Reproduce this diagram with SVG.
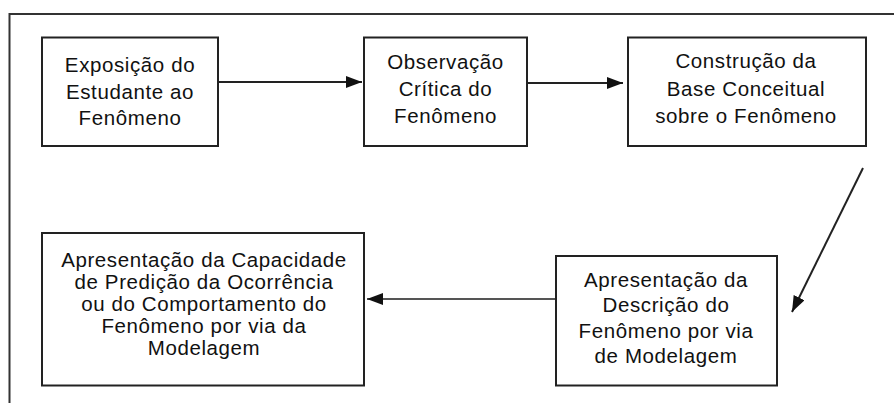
<svg xmlns="http://www.w3.org/2000/svg" width="894" height="403" viewBox="0 0 894 403">
  <style>
    .box { fill: #ffffff; stroke: #222222; stroke-width: 2; }
    .frame { fill: none; stroke: #333333; stroke-width: 2; }
    .lbl { font-family: "Liberation Sans", Arial, sans-serif; font-size: 20.5px; letter-spacing: 0.6px; fill: #111111; text-anchor: middle; }
    .conn { stroke: #222222; stroke-width: 2; fill: none; }
    .conn.gray { stroke: #555555; }
  </style>
  <defs>
    <marker id="arrow" markerUnits="userSpaceOnUse" markerWidth="16" markerHeight="12" refX="16" refY="6" orient="auto">
      <path d="M0,0 L16,6 L0,12 z" fill="#111111"/>
    </marker>
  </defs>
  <rect width="894" height="403" fill="#ffffff"/>
  <path class="frame" d="M9.5,403 L9.5,14 L894,14"/>

  <g id="connectors">
    <line class="conn" x1="218" y1="82" x2="362" y2="82" marker-end="url(#arrow)"/>
    <line class="conn" x1="527" y1="83" x2="623" y2="83" marker-end="url(#arrow)"/>
    <line class="conn" x1="863" y1="168" x2="792" y2="312" marker-end="url(#arrow)"/>
    <line class="conn gray" x1="556" y1="299" x2="367" y2="299" marker-end="url(#arrow)"/>
  </g>

  <g id="node1">
    <rect class="box" x="42" y="37.5" width="176" height="108.5"/>
    <text class="lbl" x="130" y="72">Exposição do</text>
    <text class="lbl" x="130" y="98.5">Estudante ao</text>
    <text class="lbl" x="130" y="125">Fenômeno</text>
  </g>

  <g id="node2">
    <rect class="box" x="364" y="37.5" width="163" height="108.5"/>
    <text class="lbl" x="445.5" y="69">Observação</text>
    <text class="lbl" x="445.5" y="95.7">Crítica do</text>
    <text class="lbl" x="445.5" y="122.7">Fenômeno</text>
  </g>

  <g id="node3">
    <rect class="box" x="628" y="37.5" width="238" height="108.5"/>
    <text class="lbl" x="746" y="68.3">Construção da</text>
    <text class="lbl" x="746" y="95.7">Base Conceitual</text>
    <text class="lbl" x="746" y="122.7">sobre o Fenômeno</text>
  </g>

  <g id="node4">
    <rect class="box" x="42" y="233" width="322" height="152.5"/>
    <text class="lbl" x="204" y="266.5">Apresentação da Capacidade</text>
    <text class="lbl" x="204" y="288.5">de Predição da Ocorrência</text>
    <text class="lbl" x="204" y="310.5">ou do Comportamento do</text>
    <text class="lbl" x="204" y="332.5">Fenômeno por via da</text>
    <text class="lbl" x="204" y="354.5">Modelagem</text>
  </g>

  <g id="node5">
    <rect class="box" x="556" y="256" width="221" height="129.5"/>
    <text class="lbl" x="666" y="286.7">Apresentação da</text>
    <text class="lbl" x="666" y="311.7">Descrição do</text>
    <text class="lbl" x="666" y="338">Fenômeno por via</text>
    <text class="lbl" x="666" y="363">de Modelagem</text>
  </g>
</svg>
